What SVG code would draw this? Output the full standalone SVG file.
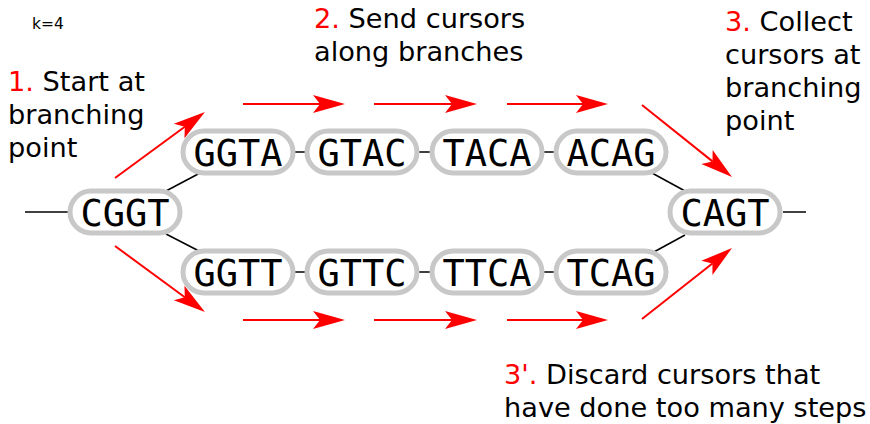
<svg xmlns="http://www.w3.org/2000/svg" width="870" height="424" viewBox="0 0 870 424">
  <style>
    .pill { fill: #ffffff; stroke: #c8c8c8; stroke-width: 5; }
    .kmer { font-family: "DejaVu Sans Mono", "Liberation Mono", monospace; font-size: 37px; fill: #000; text-anchor: middle; }
    .edge { stroke: #000; stroke-width: 1.5; fill: none; }
    .cursor { stroke: #ff0000; stroke-width: 2; fill: none; marker-end: url(#head); }
    .label { font-family: "DejaVu Sans", "Liberation Sans", sans-serif; font-size: 27.2px; fill: #000; }
    .step { fill: #ff0000; }
  </style>
  <defs>
    <marker id="head" markerUnits="userSpaceOnUse" markerWidth="40" markerHeight="24" refX="0" refY="0" orient="auto" overflow="visible">
      <path d="M25,0 L-7,-9 L0,0 L-7,9 Z" fill="#ff0000"/>
    </marker>
  </defs>

  <rect width="870" height="424" fill="#ffffff"/>

  <text x="32" y="29" font-family="DejaVu Sans, Liberation Sans, sans-serif" font-size="15.5px">k=4</text>

  <!-- graph edges -->
  <g id="edges">
    <line class="edge" x1="25" y1="212" x2="68" y2="212"/>
    <line class="edge" x1="166" y1="191" x2="200" y2="173"/>
    <line class="edge" x1="166" y1="234" x2="199" y2="251"/>
    <line class="edge" x1="295" y1="152" x2="305" y2="152"/>
    <line class="edge" x1="419" y1="152" x2="430" y2="152"/>
    <line class="edge" x1="544" y1="152" x2="554" y2="152"/>
    <line class="edge" x1="295" y1="272" x2="305" y2="272"/>
    <line class="edge" x1="419" y1="272" x2="430" y2="272"/>
    <line class="edge" x1="544" y1="272" x2="554" y2="272"/>
    <line class="edge" x1="652" y1="173" x2="685" y2="191"/>
    <line class="edge" x1="652" y1="253" x2="685" y2="235"/>
    <line class="edge" x1="783" y1="212" x2="806" y2="212"/>
  </g>

  <!-- k-mer nodes -->
  <g id="CGGT"><rect class="pill" x="70" y="191" width="110" height="42" rx="21"/><text class="kmer" x="125" y="225.5">CGGT</text></g>
  <g id="GGTA"><rect class="pill" x="183" y="131" width="110" height="42" rx="21"/><text class="kmer" x="238" y="165.5">GGTA</text></g>
  <g id="GTAC"><rect class="pill" x="307" y="131" width="110" height="42" rx="21"/><text class="kmer" x="362" y="165.5">GTAC</text></g>
  <g id="TACA"><rect class="pill" x="432" y="131" width="110" height="42" rx="21"/><text class="kmer" x="487" y="165.5">TACA</text></g>
  <g id="ACAG"><rect class="pill" x="556" y="131" width="110" height="42" rx="21"/><text class="kmer" x="611" y="165.5">ACAG</text></g>
  <g id="GGTT"><rect class="pill" x="183" y="251" width="110" height="42" rx="21"/><text class="kmer" x="238" y="285.5">GGTT</text></g>
  <g id="GTTC"><rect class="pill" x="307" y="251" width="110" height="42" rx="21"/><text class="kmer" x="362" y="285.5">GTTC</text></g>
  <g id="TTCA"><rect class="pill" x="432" y="251" width="110" height="42" rx="21"/><text class="kmer" x="487" y="285.5">TTCA</text></g>
  <g id="TCAG"><rect class="pill" x="556" y="251" width="110" height="42" rx="21"/><text class="kmer" x="611" y="285.5">TCAG</text></g>
  <g id="CAGT"><rect class="pill" x="670" y="191" width="110" height="42" rx="21"/><text class="kmer" x="725" y="225.5">CAGT</text></g>

  <!-- cursor arrows -->
  <g id="cursors">
    <line class="cursor" x1="115" y1="178" x2="184.8" y2="126.8"/>
    <line class="cursor" x1="115" y1="246" x2="184.8" y2="297.2"/>
    <line class="cursor" x1="243" y1="104" x2="320" y2="104"/>
    <line class="cursor" x1="374" y1="104" x2="452" y2="104"/>
    <line class="cursor" x1="507" y1="104" x2="583" y2="104"/>
    <line class="cursor" x1="243" y1="320" x2="320" y2="320"/>
    <line class="cursor" x1="374" y1="320" x2="452" y2="320"/>
    <line class="cursor" x1="507" y1="320" x2="583" y2="320"/>
    <line class="cursor" x1="642" y1="105" x2="712.5" y2="161.4"/>
    <line class="cursor" x1="642" y1="319" x2="712.4" y2="263.5"/>
  </g>

  <!-- step captions -->
  <text class="label" x="8" y="91"><tspan class="step">1.</tspan> Start at<tspan x="8" dy="33">branching</tspan><tspan x="8" dy="33">point</tspan></text>
  <text class="label" x="314" y="28"><tspan class="step">2.</tspan> Send cursors<tspan x="314" dy="33">along branches</tspan></text>
  <text class="label" x="725" y="31"><tspan class="step">3.</tspan> Collect<tspan x="725" dy="33">cursors at</tspan><tspan x="725" dy="33">branching</tspan><tspan x="725" dy="33">point</tspan></text>
  <text class="label" x="504" y="384"><tspan class="step">3'.</tspan> Discard cursors that<tspan x="504" dy="33">have done too many steps</tspan></text>
</svg>
